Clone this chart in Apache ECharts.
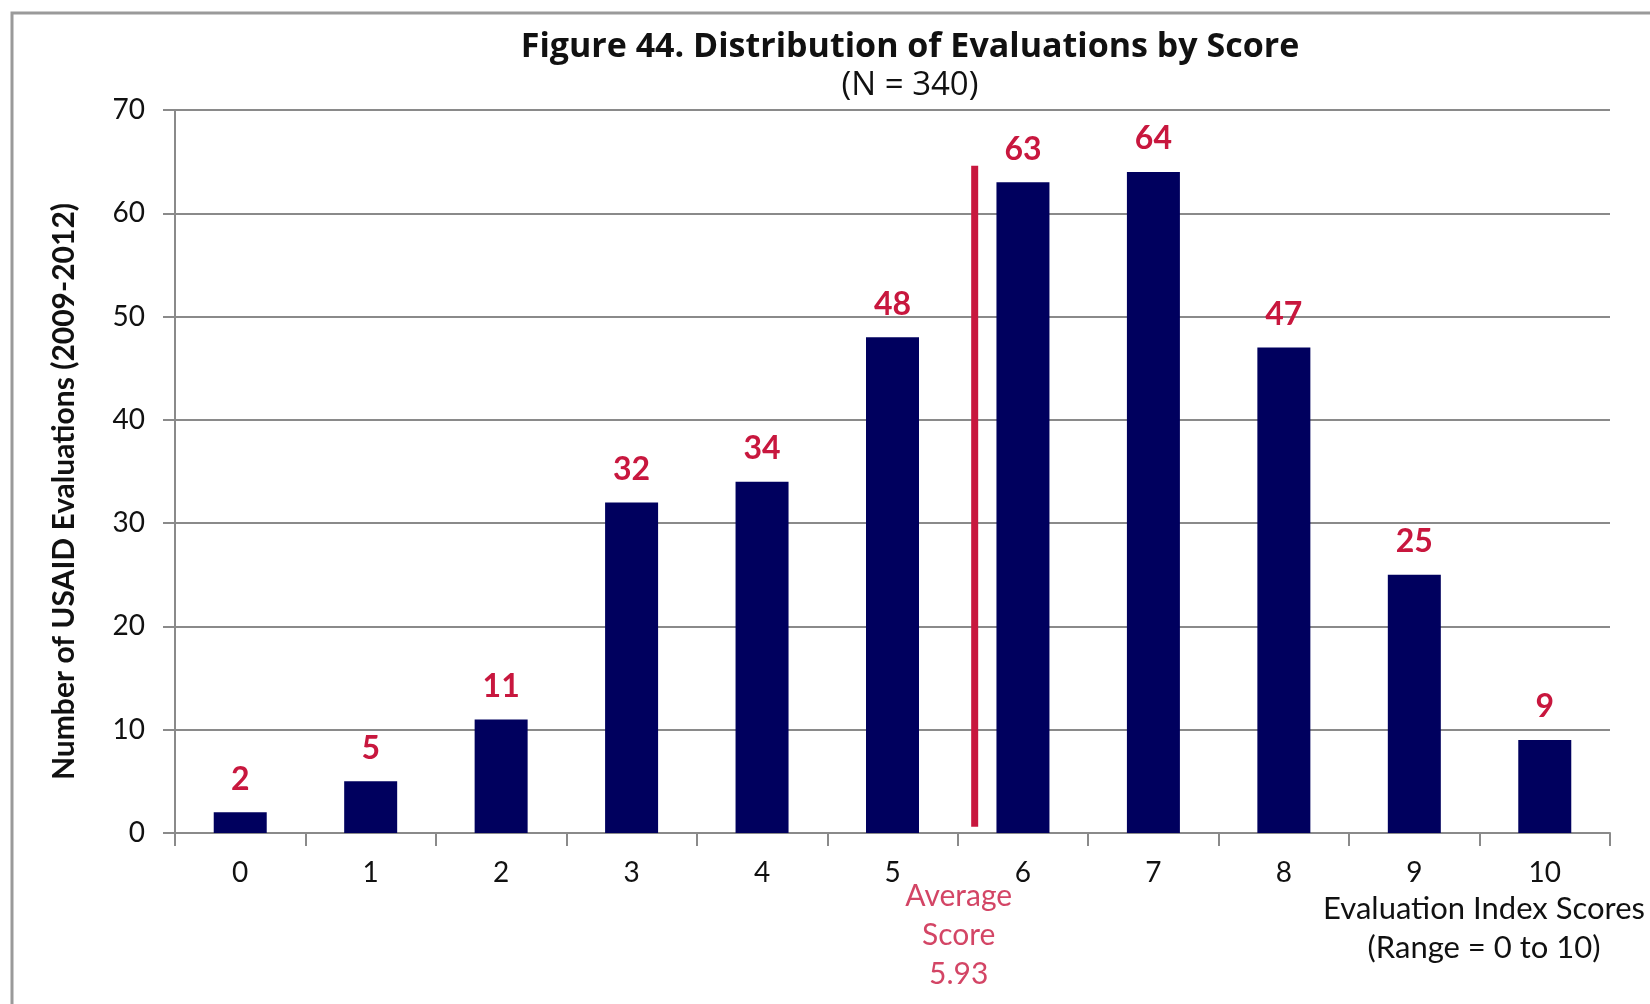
<!DOCTYPE html>
<html>
<head>
<meta charset="utf-8">
<script src="https://cdn.jsdelivr.net/npm/echarts@6/dist/echarts.min.js"></script>
<style>
html,body{margin:0;padding:0;background:#fff;}
#chart{width:1650px;height:1004px;}
</style>
</head>
<body>
<div id="chart"></div>
<script>
const categories = ['0','1','2','3','4','5','6','7','8','9','10'];
const counts = [2, 5, 11, 32, 34, 48, 63, 64, 47, 25, 9];
const yTicks = {min: 0, max: 70, interval: 10};
const avgLinePos = 5.63;     // drawn position of the average marker on the category scale
const avgLineRange = [0.6, 64.6];
const avgText = 'Average\nScore\n5.93';
const titleText = 'Figure 44. Distribution of Evaluations by Score';
const subtitleText = '(N = 340)';
const yName = 'Number of USAID Evaluations (2009-2012)';
const xNameLines = 'Evaluation Index Scores\n(Range = 0 to 10)';

const RED = '#C8173E';
const NAVY = '#00005E';
const GRID = '#8a8a8a';
const FONT = 'Lato';
const TFONT = 'Open Sans';

const chart = echarts.init(document.getElementById('chart'));
chart.setOption({
  backgroundColor: '#fff',
  animation: false,
  title: {
    text: titleText,
    subtext: subtitleText,
    left: 905,
    textAlign: 'center',
    top: 25,
    itemGap: 5,
    textStyle: {fontFamily: TFONT, fontWeight: 'bold', fontSize: 34, color: '#111'},
    subtextStyle: {fontFamily: TFONT, fontSize: 33, color: '#111'}
  },
  graphic: [
    {type: 'rect', shape: {x: 12, y: 13, width: 1700, height: 1100},
     style: {fill: 'none', stroke: '#9a9a9a', lineWidth: 3}, silent: true},
    {type: 'text', x: 1484, y: 889,
     style: {text: xNameLines, fontFamily: FONT, fontSize: 31, fill: '#111', align: 'center', verticalAlign: 'top', lineHeight: 39}}
  ],
  grid: {left: 175, right: 40, top: 110, bottom: 171, containLabel: false},
  xAxis: [
    {
      type: 'category',
      data: categories,
      boundaryGap: true,
      axisLine: {onZero: false, lineStyle: {color: GRID, width: 2}},
      axisTick: {show: true, length: 13, alignWithLabel: false, lineStyle: {color: GRID, width: 2}},
      axisLabel: {fontFamily: FONT, fontSize: 28, color: '#111', margin: 26}
    },
    {
      type: 'value', min: -0.5, max: 10.5, show: false
    }
  ],
  yAxis: {
    type: 'value',
    min: yTicks.min, max: yTicks.max, interval: yTicks.interval,
    name: yName,
    nameLocation: 'middle',
    nameGap: 96,
    nameRotate: 90,
    nameTextStyle: {fontFamily: FONT, fontWeight: 'bold', fontSize: 30, color: '#111', padding: [0, 40, 0, 0]},
    axisLine: {show: true, onZero: false, lineStyle: {color: GRID, width: 2}},
    axisTick: {show: true, length: 12, lineStyle: {color: GRID, width: 2}},
    axisLabel: {fontFamily: FONT, fontSize: 28, color: '#111', margin: 30},
    splitLine: {show: true, lineStyle: {color: GRID, width: 2}}
  },
  series: [
    {
      type: 'bar',
      data: counts,
      barWidth: 53,
      itemStyle: {color: NAVY},
      label: {
        show: true, position: 'top', distance: 17,
        fontFamily: FONT, fontWeight: 'bold', fontSize: 32, color: RED
      },
      z: 2
    },
    {
      type: 'line',
      xAxisIndex: 1,
      data: [[avgLinePos, avgLineRange[0]], [avgLinePos, avgLineRange[1]]],
      symbol: 'none',
      lineStyle: {color: RED, width: 7},
      z: 3
    },
    {
      type: 'scatter',
      xAxisIndex: 1,
      data: [[avgLinePos, 0]],
      symbolSize: 0,
      label: {
        show: true, position: 'bottom', distance: 0,
        offset: [-16, 44],
        formatter: avgText,
        fontFamily: FONT, fontSize: 30, color: RED, lineHeight: 39, align: 'center'
      },
      silent: true
    }
  ]
});
</script>
</body>
</html>
